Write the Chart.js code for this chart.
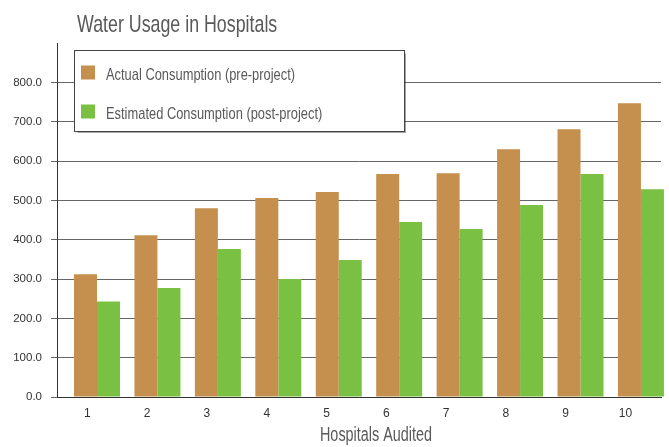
<!DOCTYPE html>
<html>
<head>
<meta charset="utf-8">
<title>Water Usage in Hospitals</title>
<script src="https://cdn.jsdelivr.net/npm/chart.js@4.4.1/dist/chart.umd.min.js"></script>
<style>
  html, body { margin: 0; padding: 0; background: #fff; }
  #wrap { position: relative; width: 669px; height: 447px; }
</style>
</head>
<body>
<div id="wrap"><canvas id="waterChart"></canvas></div>
<script>
  // Data
  const hospitals = ['1', '2', '3', '4', '5', '6', '7', '8', '9', '10'];
  const actualUse = [312, 411, 480, 506, 521, 567, 569, 630, 681, 747];
  const estimatedUse = [243, 277, 376, 300, 348, 445, 427, 488, 567, 528];
  const yTickLabels = ['0.0', '100.0', '200.0', '300.0', '400.0', '500.0', '600.0', '700.0', '800.0'];
  const seriesNames = ['Actual Consumption (pre-project)', 'Estimated Consumption (post-project)'];
  const chartTitle = 'Water Usage in Hospitals';
  const xAxisTitle = 'Hospitals Audited';

  const sans = "'Liberation Sans', Arial, sans-serif";
  const textGray = '#595959';
  const gridGray = '#666';

  // condensed-looking text: regular sans squeezed horizontally
  function condensedText(ctx, text, x, y, size, squeeze, align) {
    ctx.save();
    ctx.font = size + 'px ' + sans;
    ctx.textAlign = align;
    ctx.translate(x, y);
    ctx.scale(squeeze, 1);
    ctx.fillText(text, 0, 0);
    ctx.restore();
  }

  // Title, axis title and boxed legend drawn on top of the plot
  const decorations = {
    id: 'decorations',
    afterDraw(chart) {
      const ctx = chart.ctx;
      ctx.save();

      ctx.fillStyle = textGray;
      ctx.textBaseline = 'alphabetic';
      condensedText(ctx, chartTitle, 77, 32, 24, 0.742, 'left');
      condensedText(ctx, xAxisTitle, 376, 441, 20, 0.72, 'center');

      // legend box
      ctx.shadowColor = 'rgba(0,0,0,0.35)';
      ctx.shadowOffsetX = 1;
      ctx.shadowOffsetY = 1;
      ctx.shadowBlur = 1;
      ctx.fillStyle = '#fff';
      ctx.fillRect(74.5, 50.5, 330, 81);
      ctx.shadowColor = 'transparent';
      ctx.strokeStyle = '#444';
      ctx.lineWidth = 1;
      ctx.strokeRect(74.5, 50.5, 330, 81);

      chart.data.datasets.forEach((ds, i) => {
        const y = 65.5 + i * 39;
        ctx.fillStyle = ds.backgroundColor;
        ctx.fillRect(81, y, 14, 14);
        ctx.fillStyle = textGray;
        condensedText(ctx, ds.label, 106, y + 14.5, 17, 0.758, 'left');
      });

      ctx.restore();
    }
  };

  const hospitalTicks = (axis) => {
    axis.ticks = hospitals.map((h) => ({ value: Number(h) }));
  };

  new Chart(document.getElementById('waterChart'), {
    type: 'bar',
    data: {
      labels: hospitals,
      datasets: [
        {
          label: seriesNames[0],
          data: actualUse,
          backgroundColor: '#c58f4d',
          categoryPercentage: 0.761,
          barPercentage: 1,
          clip: false
        },
        {
          label: seriesNames[1],
          data: estimatedUse,
          backgroundColor: '#7ac143',
          categoryPercentage: 0.761,
          barPercentage: 1,
          clip: false
        }
      ]
    },
    options: {
      responsive: true,
      maintainAspectRatio: false,
      animation: false,
      layout: { padding: { top: 43, right: 8, left: 0, bottom: 0 } },
      plugins: {
        legend: { display: false },
        title: { display: false },
        tooltip: { enabled: false }
      },
      scales: {
        x: {
          type: 'linear',
          min: 0.338,
          max: 10.332,
          offset: false,
          weight: 0,
          afterBuildTicks: hospitalTicks,
          afterFit: (s) => { s.height = 0; },
          grid: { display: false, drawTicks: false, offset: false },
          border: { display: true, color: '#333', width: 1 },
          ticks: { display: false }
        },
        xl: {
          type: 'linear',
          position: 'bottom',
          min: 0.4915,
          max: 10.595,
          offset: false,
          weight: 1,
          afterBuildTicks: hospitalTicks,
          afterFit: (s) => { s.height = 50; },
          grid: { display: false, drawTicks: false },
          border: { display: false },
          ticks: {
            autoSkip: false,
            maxRotation: 0,
            padding: 9,
            color: '#333',
            font: { family: sans, size: 12 },
            callback: (v, i) => hospitals[i]
          }
        },
        y: {
          min: 0,
          max: 900,
          afterFit: (s) => { s.width = 57; },
          border: { display: true, color: '#333', width: 1 },
          grid: {
            color: (c) => (c.tick && c.tick.value >= 900 ? 'rgba(0,0,0,0)' : gridGray),
            tickLength: 6
          },
          ticks: {
            stepSize: 100,
            padding: 9,
            color: '#333',
            font: { family: sans, size: 11.5 },
            callback: (v, i) => (yTickLabels[i] !== undefined ? yTickLabels[i] : '')
          }
        }
      }
    },
    plugins: [decorations]
  });
</script>
</body>
</html>
